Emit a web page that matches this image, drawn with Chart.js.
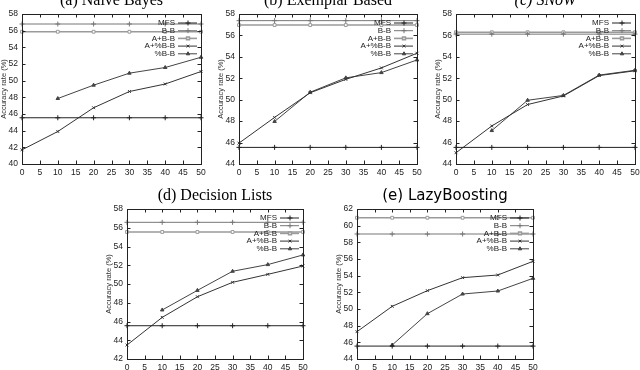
<!DOCTYPE html>
<html>
<head>
<meta charset="utf-8">
<script src="https://cdn.jsdelivr.net/npm/chart.js@4.4.1/dist/chart.umd.min.js"></script>
<style>
  html, body { margin: 0; padding: 0; background: #fff; }
  #page { position: relative; width: 640px; height: 370px; overflow: hidden; background: #fff; }
  #page canvas { position: absolute; }
</style>
</head>
<body>
<div id="page"></div>
<script>
// percentage of B-B examples added (x axis)
const percents = [0, 10, 20, 30, 40, 50];
const seriesNames = ['MFS', 'B-B', 'A+B-B', 'A+%B-B', '%B-B'];
const panelTitles = ['(a) Naive Bayes', '(b) Exemplar Based', '(c) SNoW', '(d) Decision Lists', '(e) LazyBoosting'];
const yMins = [40, 44, 44, 42, 44];
const yMaxs = [58, 58, 58, 58, 62];

// constant reference lines, one value per panel
const mfsValues = [45.55, 45.55, 45.55, 45.55, 45.55];
const bbValues = [56.8, 57.38, 56.12, 56.58, 59.0];
const abbValues = [55.87, 56.97, 56.3, 55.55, 60.95];

// learning curves per panel
const apbbNB = [41.7, 43.9, 46.75, 48.7, 49.6, 51.1];
const pbbNB = [null, 47.86, 49.46, 50.9, 51.58, 52.81];
const apbbEB = [45.95, 48.35, 50.65, 51.9, 52.97, 54.34];
const pbbEB = [null, 47.97, 50.7, 52.04, 52.53, 53.71];
const apbbSN = [45.05, 47.55, 49.55, 50.35, 52.25, 52.7];
const pbbSN = [null, 47.12, 49.95, 50.4, 52.3, 52.75];
const apbbDL = [43.49, 46.44, 48.64, 50.18, 51.03, 51.92];
const pbbDL = [null, 47.23, 49.32, 51.36, 52.07, 53.1];
const apbbLB = [47.28, 50.32, 52.2, 53.76, 54.08, 55.72];
const pbbLB = [null, 45.68, 49.44, 51.8, 52.16, 53.68];

const apbbAll = [apbbNB, apbbEB, apbbSN, apbbDL, apbbLB];
const pbbAll = [pbbNB, pbbEB, pbbSN, pbbDL, pbbLB];

// layout: plot-area box of every panel on the page
const panelBoxes = [
  { left: 22, right: 201, top: 14 },
  { left: 239, right: 417, top: 14 },
  { left: 456, right: 635, top: 14 },
  { left: 127, right: 303, top: 209 },
  { left: 357, right: 533, top: 209 }
];
const Y_AXIS_W = 24, TOP_AREA = 24, PLOT_H = 150, X_AXIS_H = 20, RIGHT_PAD = 5;

const titleFonts = [
  '16px "Liberation Serif", "DejaVu Serif", serif',
  '16px "Liberation Serif", "DejaVu Serif", serif',
  'italic 16px "Liberation Serif", "DejaVu Serif", serif',
  '16px "Liberation Serif", "DejaVu Serif", serif',
  '15px "DejaVu Sans", sans-serif'
];

const seriesStyles = [
  { color: '#222', width: 1, pointStyle: 'cross', radius: 2.5, bg: '#222' },
  { color: '#777', width: 1, pointStyle: 'cross', radius: 2.5, bg: '#777' },
  { color: '#9a9a9a', width: 1.6, pointStyle: 'rect', radius: 2, bg: '#fff' },
  { color: '#333', width: 1, pointStyle: 'crossRot', radius: 2, bg: '#333' },
  { color: '#444', width: 1, pointStyle: 'triangle', radius: 2, bg: '#444' }
];

const tickFont = { family: '"Liberation Sans", Arial, sans-serif', size: 8.5 };

const panelTitlePlugin = {
  id: 'panelTitle',
  afterDraw(chart, args, opts) {
    const { ctx, chartArea } = chart;
    ctx.save();
    ctx.font = opts.font;
    ctx.fillStyle = '#000';
    ctx.textAlign = 'center';
    ctx.textBaseline = 'alphabetic';
    ctx.fillText(opts.text, (chartArea.left + chartArea.right) / 2, chartArea.top - 9);
    ctx.restore();
  }
};

// gnuplot style frame with ticks pointing inward
const framePlugin = {
  id: 'frame',
  afterDatasetsDraw(chart) {
    const { ctx, chartArea: a, scales } = chart;
    ctx.save();
    ctx.strokeStyle = '#222';
    ctx.lineWidth = 1;
    ctx.strokeRect(Math.round(a.left) + 0.5, Math.round(a.top) + 0.5,
      Math.round(a.right - a.left), Math.round(a.bottom - a.top));
    const len = 3.5;
    ctx.beginPath();
    scales.x.ticks.forEach(t => {
      const px = Math.round(scales.x.getPixelForValue(t.value)) + 0.5;
      ctx.moveTo(px, a.bottom); ctx.lineTo(px, a.bottom - len);
      ctx.moveTo(px, a.top); ctx.lineTo(px, a.top + len);
    });
    scales.y.ticks.forEach(t => {
      const py = Math.round(scales.y.getPixelForValue(t.value)) + 0.5;
      ctx.moveTo(a.left, py); ctx.lineTo(a.left + len, py);
      ctx.moveTo(a.right, py); ctx.lineTo(a.right - len, py);
    });
    ctx.stroke();
    ctx.restore();
  }
};

const insideLegendPlugin = {
  id: 'insideLegend',
  afterDatasetsDraw(chart) {
    const { ctx, chartArea: a } = chart;
    ctx.save();
    ctx.font = '8px "Liberation Sans", Arial, sans-serif';
    ctx.textAlign = 'right';
    ctx.textBaseline = 'middle';
    chart.data.datasets.forEach((ds, i) => {
      const y = a.top + 9 + i * 7.7;
      ctx.fillStyle = '#222';
      ctx.fillText(ds.label, a.right - 26, y);
      ctx.strokeStyle = ds.borderColor;
      ctx.lineWidth = ds.borderWidth;
      ctx.beginPath();
      ctx.moveTo(a.right - 23, y);
      ctx.lineTo(a.right - 4, y);
      ctx.stroke();
      ctx.fillStyle = ds.pointBackgroundColor;
      Chart.helpers.drawPoint(ctx, {
        pointStyle: ds.pointStyle, radius: ds.pointRadius, rotation: 0,
        borderWidth: 1
      }, a.right - 13, y);
    });
    ctx.restore();
  }
};

function makeDataset(idx, values) {
  const s = seriesStyles[idx];
  return {
    label: seriesNames[idx],
    data: percents.map((p, i) => ({ x: p, y: values[i] })),
    borderColor: s.color,
    borderWidth: s.width,
    pointStyle: s.pointStyle,
    pointRadius: s.radius,
    pointBorderColor: s.color,
    pointBackgroundColor: s.bg,
    pointBorderWidth: 1,
    tension: 0,
    clip: 4
  };
}

const page = document.getElementById('page');

panelTitles.forEach((title, p) => {
  const box = panelBoxes[p];
  const canvas = document.createElement('canvas');
  const w = (box.right - box.left) + Y_AXIS_W + RIGHT_PAD;
  const h = TOP_AREA + PLOT_H + X_AXIS_H;
  canvas.width = w;
  canvas.height = h;
  canvas.style.width = w + 'px';
  canvas.style.height = h + 'px';
  canvas.style.left = (box.left - Y_AXIS_W) + 'px';
  canvas.style.top = (box.top - TOP_AREA) + 'px';
  page.appendChild(canvas);

  const constant = v => percents.map(() => v);

  new Chart(canvas.getContext('2d'), {
    type: 'line',
    data: {
      datasets: [
        makeDataset(0, constant(mfsValues[p])),
        makeDataset(1, constant(bbValues[p])),
        makeDataset(2, constant(abbValues[p])),
        makeDataset(3, apbbAll[p]),
        makeDataset(4, pbbAll[p])
      ]
    },
    options: {
      responsive: false,
      animation: false,
      devicePixelRatio: 1,
      layout: { padding: { top: TOP_AREA, right: RIGHT_PAD, left: 0, bottom: 0 } },
      plugins: {
        legend: { display: false },
        tooltip: { enabled: false },
        panelTitle: { text: title, font: titleFonts[p] }
      },
      scales: {
        x: {
          type: 'linear',
          min: 0,
          max: 50,
          grid: { display: false, drawTicks: false },
          border: { display: false },
          ticks: { stepSize: 5, autoSkip: false, maxRotation: 0, padding: 4, color: '#222', font: tickFont },
          afterFit: s => { s.height = X_AXIS_H; s.paddingLeft = 0; s.paddingRight = 0; }
        },
        y: {
          min: yMins[p],
          max: yMaxs[p],
          grid: { display: false, drawTicks: false },
          border: { display: false },
          ticks: { stepSize: 2, padding: 4, color: '#222', font: tickFont },
          title: {
            display: true,
            text: 'Accuracy rate (%)',
            color: '#333',
            font: { family: '"Liberation Sans", Arial, sans-serif', size: 7.5 },
            padding: { top: 1, bottom: 0 }
          },
          afterFit: s => { s.width = Y_AXIS_W; s.paddingTop = 0; s.paddingBottom = 0; }
        }
      }
    },
    plugins: [panelTitlePlugin, framePlugin, insideLegendPlugin]
  });
});
</script>
</body>
</html>
